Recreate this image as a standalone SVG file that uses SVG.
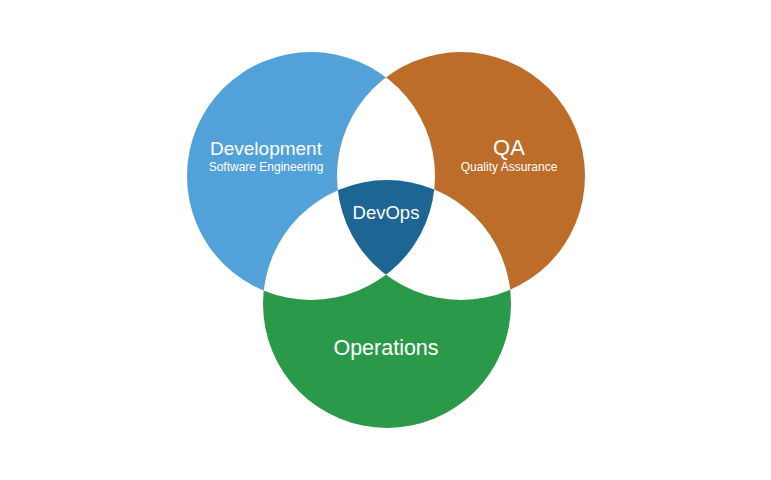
<svg xmlns="http://www.w3.org/2000/svg" width="771" height="480" viewBox="0 0 771 480">
<style>
text{font-family:"Liberation Sans",Arial,sans-serif;fill:#fff;text-anchor:middle}
.big{font-size:19px}
.small{font-size:12px}
</style>
<defs>
<clipPath id="cDev"><circle cx="311" cy="176" r="124"/></clipPath>
<clipPath id="cQA"><circle cx="461" cy="176" r="124"/></clipPath>
<clipPath id="cOps"><circle cx="387" cy="304" r="124"/></clipPath>
</defs>
<rect width="771" height="480" fill="#fff"/>
<g id="dev">
<circle cx="311" cy="176" r="124" fill="#52A2D9"/>
</g>
<g id="qa">
<circle cx="461" cy="176" r="124" fill="#BD6D2A"/>
</g>
<g id="ops">
<circle cx="387" cy="304" r="124" fill="#2A9A4A"/>
</g>
<g id="overlaps" fill="#fff">
<circle cx="461" cy="176" r="124" clip-path="url(#cDev)"/>
<circle cx="387" cy="304" r="124" clip-path="url(#cDev)"/>
<circle cx="387" cy="304" r="124" clip-path="url(#cQA)"/>
</g>
<g id="devops">
<g clip-path="url(#cDev)">
<circle cx="461" cy="176" r="124" clip-path="url(#cOps)" fill="#1D6593"/>
</g>
<text x="386" y="219" style="font-size:18.5px">DevOps</text>
</g>
<g id="labels">
<text class="big" x="266" y="155">Development</text>
<text class="small" x="266" y="171">Software Engineering</text>
<text x="509" y="155" style="font-size:22px">QA</text>
<text class="small" x="509" y="171">Quality Assurance</text>
<text x="386" y="355" style="font-size:21.5px">Operations</text>
</g>
<g id="connectors"/>
</svg>
